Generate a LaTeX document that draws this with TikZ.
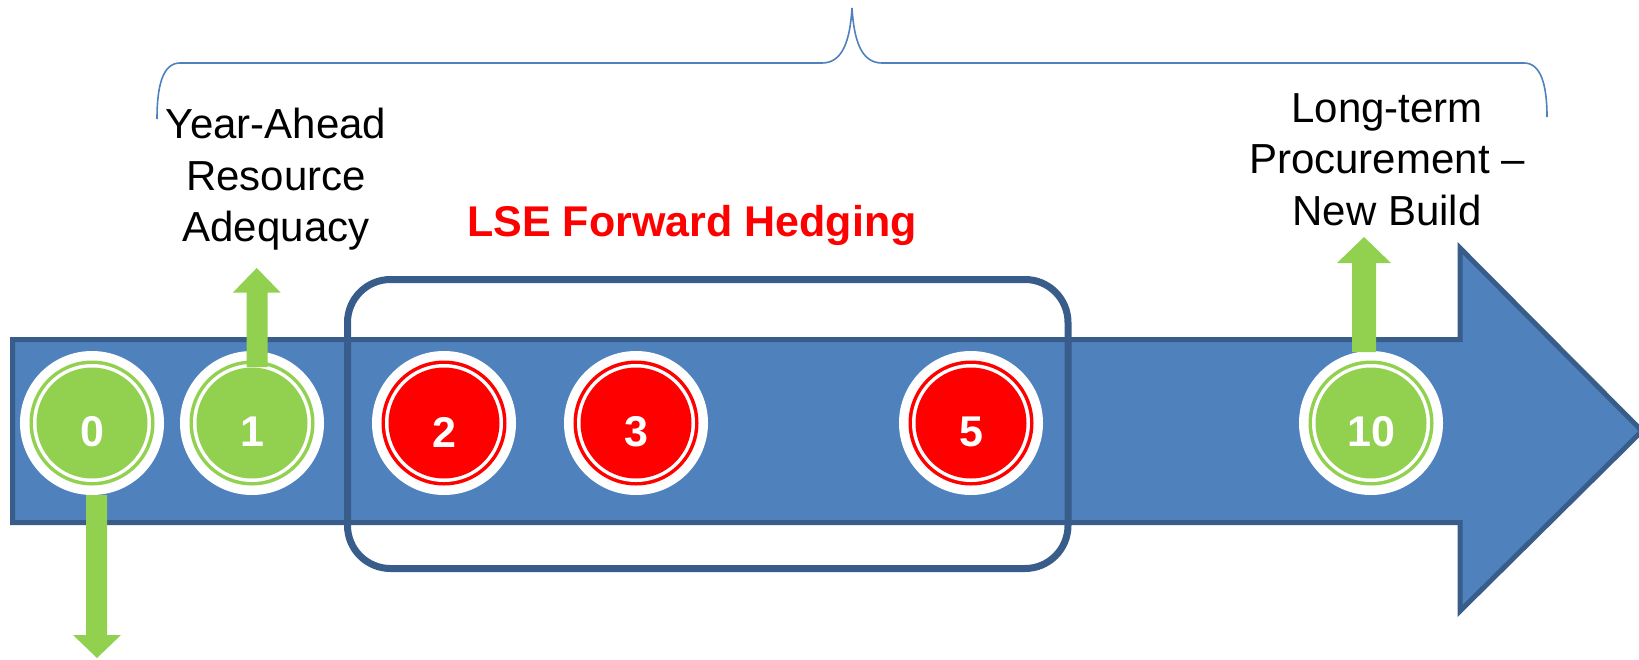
\documentclass[tikz,border=0pt]{standalone}
\usepackage{fontspec}
\setmainfont{Liberation Sans}
\definecolor{arrowblue}{HTML}{4F81BD}
\definecolor{borderblue}{HTML}{385D8A}
\definecolor{mgreen}{HTML}{92D050}
\definecolor{mred}{HTML}{FF0000}
\tikzset{
  bigarrow/.style={fill=arrowblue,draw=borderblue,line width=5pt,line join=miter},
  hedgebox/.style={draw=borderblue,line width=7pt,rounded corners=43pt},
  bracestyle/.style={draw=arrowblue,line width=1.6pt},
  greenarrow/.style={fill=mgreen,draw=none},
  disc/.style={circle,fill=white,minimum size=144pt,inner sep=0pt,draw=none},
  digit/.style={text=white,font={\fontsize{43}{43}\selectfont\bfseries},inner sep=0pt},
  lbl/.style={align=center,anchor=north,inner sep=0pt,font={\fontsize{42}{51.5}\selectfont}},
  hedgelbl/.style={anchor=north,inner sep=0pt,text=mred,font={\fontsize{43}{43}\selectfont\bfseries}},
}
\newcommand\milestone[4]{%
  \node[disc] (#1) at (#2,423) {};
  \fill[#3] (#1.center) circle (62.5pt);
  \fill[white] (#1.center) circle (59pt);
  \fill[#3] (#1.center) circle (55.5pt);
  \node[digit] (#1t) at (#2,432) {#4};
}
\begin{document}
\begin{tikzpicture}[x=1pt,y=-1pt]
\useasboundingbox (0,0) rectangle (1639,659);
% big blue arrow
\draw[bigarrow] (12.5,339.5) -- (1460,339.5) -- (1460,248) -- (1642,431) -- (1460,611) -- (1460,522.5) -- (12.5,522.5) -- cycle;
% hedging box
\draw[hedgebox] (347.5,279.5) rectangle (1068,568.5);
% brace
\draw[bracestyle] (157,119) .. controls (157,85) and (163,63) .. (180,63) -- (822,63) .. controls (843,63) and (850,40) .. (852,8) .. controls (854,40) and (861,63) .. (882,63) -- (1524,63) .. controls (1541,63) and (1547,85) .. (1547,117);
% milestones
\milestone{c0}{92}{mgreen}{0}
\milestone{c1}{252}{mgreen}{1}
\milestone{c2}{444}{mred}{2}
\milestone{c3}{636}{mred}{3}
\milestone{c5}{971}{mred}{5}
\milestone{c10}{1371}{mgreen}{10}
% green block arrows
\fill[greenarrow] (246.7,367) -- (246.7,292.7) -- (232.7,292.7) -- (256.7,268) -- (280.7,292.7) -- (267.7,292.7) -- (267.7,367) -- cycle;
\fill[greenarrow] (86,495) -- (86,635) -- (73,635) -- (97,658) -- (121,635) -- (107,635) -- (107,495) -- cycle;
\fill[greenarrow] (1352,352) -- (1352,263) -- (1337,263) -- (1364,237) -- (1391,263) -- (1376,263) -- (1376,352) -- cycle;
% labels
\node[lbl] (ya) at (276,108) {Year-Ahead\\Resource\\Adequacy};
\node[lbl] (lt) at (1387,93) {Long-term\\Procurement –\\New Build};
\node[hedgelbl] (lse) at (692,205) {LSE Forward Hedging};
\end{tikzpicture}
\end{document}
